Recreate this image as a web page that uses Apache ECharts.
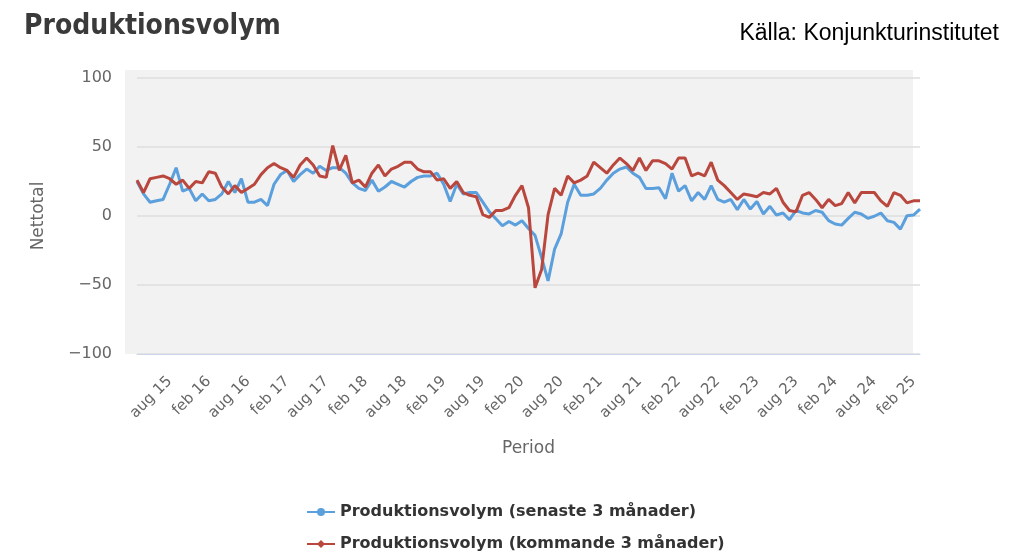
<!DOCTYPE html>
<html>
<head>
<meta charset="utf-8">
<script src="https://cdn.jsdelivr.net/npm/echarts@6/dist/echarts.min.js"></script>
<style>
  html, body { margin: 0; padding: 0; background: #fff; }
  #chart { width: 1010px; height: 553px; }
</style>
</head>
<body>
<div id="chart"></div>
<script>
// månader, mar 2015 - mar 2025
var monthNames = ['jan', 'feb', 'mar', 'apr', 'maj', 'jun', 'jul', 'aug', 'sep', 'okt', 'nov', 'dec'];
var startYear = 2015;
var startMonth = 2; // mar

var senaste = [
  25, 16, 10, 11, 12, 23, 35, 18, 20, 11,
  16, 11, 12, 16, 25, 17, 27, 10, 10, 12,
  7.5, 23, 30, 33, 25, 30, 34, 31, 36, 33,
  35, 35, 31, 24, 20, 18.5, 26, 18, 21, 25,
  23, 21, 25, 28, 29, 29, 31, 23, 10.5, 23,
  16, 17, 17, 10, 3, -2, -7, -4, -6.6, -3.4,
  -9, -14, -30, -47, -24, -13, 10, 23, 15, 15,
  16, 20, 26, 31, 34, 35.5, 31, 28, 20, 20,
  20.5, 12.5, 31, 18, 22, 11, 17, 12, 22, 12,
  10, 12, 4.6, 12, 5, 10.5, 1.5, 7, 0.7, 2.2,
  -2.7, 4, 2.2, 1.5, 4, 2.7, -3.4, -5.8, -6.6, -1.7,
  2.7, 1.5, -1.7, -0.2, 2.2, -3.4, -4.6, -9.5, 0.2, 0.7,
  5
];

var kommande = [
  26, 17, 27, 28, 29, 27, 23, 26, 20, 25,
  24, 32, 31, 21, 16, 22, 17, 20, 23, 30,
  35, 38, 35, 33, 28, 37, 42, 37, 29, 28,
  51, 33, 44, 24, 26, 21, 31, 37, 29, 34,
  36, 39, 39, 34, 32, 32, 26, 27, 20, 25,
  17, 15, 14, 1, -1, 4, 4, 6, 15, 22,
  6, -52, -39, 1, 20, 15, 29, 24, 26, 29,
  39, 35, 31, 37, 42, 38, 33, 42, 33, 40,
  40, 38, 34, 42, 42, 29, 31, 29, 39, 26,
  22, 17, 12, 16, 15, 14, 17, 16, 20, 10,
  4, 3, 15, 17, 12, 6, 12, 7.5, 9, 17,
  9.5, 17, 17, 17, 11, 7, 17, 15, 9.5, 11,
  11
];

var categories = [];
for (var i = 0; i < senaste.length; i++) {
  var m = (startMonth + i) % 12;
  var y = startYear + Math.floor((startMonth + i) / 12);
  categories.push(monthNames[m] + ' ' + String(y).slice(2));
}

var chart = echarts.init(document.getElementById('chart'));

var labelFont = "'DejaVu Sans', 'Noto Sans', sans-serif";

var option = {
  animation: false,
  title: [
    {
      text: 'Produktionsvolym',
      left: 19,
      top: 8,
      textStyle: {
        fontFamily: "'DejaVu Sans Condensed', 'Open Sans', sans-serif",
        fontWeight: 'bold',
        fontSize: 28,
        color: '#3a3a3a'
      }
    },
    {
      text: 'Källa: Konjunkturinstitutet',
      right: 6,
      top: 17,
      textStyle: {
        fontFamily: "'Liberation Sans', Arial, sans-serif",
        fontWeight: 'normal',
        fontSize: 23,
        color: '#000000'
      }
    }
  ],
  graphic: [
    {
      type: 'rect',
      silent: true,
      z: -10,
      shape: { x: 125, y: 70, width: 788, height: 284 },
      style: { fill: '#f2f2f2' }
    }
  ],
  legend: {
    orient: 'vertical',
    left: 306,
    top: 504,
    padding: 0,
    itemGap: 16,
    itemWidth: 28,
    itemHeight: 10,
    textStyle: {
      fontFamily: labelFont,
      fontWeight: 'bold',
      fontSize: 16,
      color: '#333333'
    },
    data: [
      'Produktionsvolym (senaste 3 månader)',
      'Produktionsvolym (kommande 3 månader)'
    ]
  },
  grid: {
    left: 137,
    right: 90,
    top: 78,
    bottom: 199
  },
  xAxis: {
    type: 'category',
    data: categories,
    boundaryGap: false,
    name: 'Period',
    nameLocation: 'middle',
    nameGap: 86,
    nameTextStyle: {
      fontFamily: labelFont,
      fontSize: 17,
      color: '#666666'
    },
    axisLine: {
      onZero: false,
      lineStyle: { color: '#ccd6eb', width: 1 }
    },
    axisTick: { show: false },
    axisLabel: {
      rotate: 45,
      margin: 25,
      fontFamily: labelFont,
      fontSize: 15,
      color: '#666666',
      interval: function (index) {
        return index % 6 === 5;
      }
    },
    splitLine: { show: false }
  },
  yAxis: {
    type: 'value',
    min: -100,
    max: 100,
    interval: 50,
    name: 'Nettotal',
    nameLocation: 'middle',
    nameGap: 90,
    nameTextStyle: {
      fontFamily: labelFont,
      fontSize: 17,
      color: '#666666'
    },
    axisLine: { show: false },
    axisTick: { show: false },
    axisLabel: {
      margin: 25,
      fontFamily: labelFont,
      fontSize: 16,
      color: '#666666',
      formatter: function (v) {
        return v < 0 ? '\u2212' + Math.abs(v) : String(v);
      }
    },
    splitLine: {
      lineStyle: { color: '#dedede', width: 1.5 }
    }
  },
  series: [
    {
      name: 'Produktionsvolym (senaste 3 månader)',
      type: 'line',
      data: senaste,
      symbol: 'circle',
      symbolSize: 9,
      showSymbol: false,
      color: '#5b9fdc',
      lineStyle: { width: 3, color: '#5b9fdc' }
    },
    {
      name: 'Produktionsvolym (kommande 3 månader)',
      type: 'line',
      data: kommande,
      symbol: 'diamond',
      symbolSize: 10,
      showSymbol: false,
      color: '#b9473d',
      lineStyle: { width: 3, color: '#b9473d' }
    }
  ]
};

chart.setOption(option);
window.onresize = chart.resize;
</script>
</body>
</html>
